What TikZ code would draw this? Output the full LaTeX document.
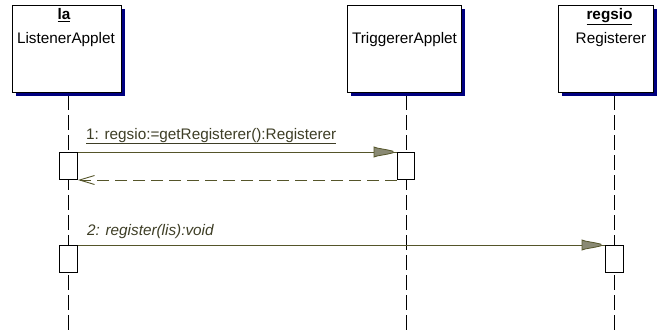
\documentclass[tikz,border=0pt]{standalone}
\usepackage{fontspec}
\setmainfont{Liberation Sans}
\usetikzlibrary{arrows.meta,decorations.markings,shadows}

\definecolor{shadowblue}{HTML}{000080}
\definecolor{msgolive}{HTML}{55552A}
\definecolor{msgtext}{HTML}{3E3E26}
\definecolor{headfill}{HTML}{8A8A74}

% underline placed below the descenders: [thickness]{gap}{text}
\newcommand\ulbox[3][1.6pt]{\leavevmode\begingroup
  \setbox0=\hbox{#3}\dimen0=\dp0 \advance\dimen0 by #2\relax
  \copy0\llap{\lower\dimen0\hbox{\vrule width\wd0 height0pt depth#1}}\endgroup}

\tikzset{
  base font/.style={font=\fontsize{15.3}{18}\selectfont},
  objbox/.style={draw=black, fill=white, line width=1pt, inner sep=0pt,
    minimum height=87pt, anchor=north west,
    drop shadow={shadow xshift=3pt, shadow yshift=-3pt, fill=shadowblue, opacity=1}},
  headtext/.style={base font, inner sep=0pt, anchor=base, text=black},
  lifeline/.style={draw=black, line width=1pt, dash pattern=on 15pt off 5pt},
  actbox/.style={draw=black, fill=white, line width=1pt, inner sep=0pt,
    minimum width=18pt, minimum height=27pt, anchor=north west},
  msgtip/.style={decoration={markings, mark=at position 1 with {
      \filldraw[draw=msgolive, fill=headfill, line width=0.8pt]
        (-23pt,5pt) -- (-20pt,4pt) -- (-9pt,2pt) -- (-4pt,0.8pt) --
        (-4pt,-0.8pt) -- (-9pt,-2pt) -- (-20pt,-4pt) -- (-23pt,-5pt) -- cycle;}},
    postaction={decorate}},
  msg/.style={draw=msgolive, line width=1pt, msgtip},
  reply/.style={draw=msgolive, line width=1pt, dash pattern=on 12pt off 6pt,
    -{Straight Barb[length=15pt, width=9pt, line width=0.9pt]}},
  msglabel/.style={base font, inner sep=0pt, anchor=base west, text=msgtext},
}

\begin{document}
\begin{tikzpicture}[x=1pt, y=-1pt]
  \fill[white] (0,0) rectangle (657,330);
  \useasboundingbox (0,0) rectangle (657,330);

  % lifelines
  \coordinate (la top) at (68,95);   \coordinate (la end) at (68,330);
  \coordinate (tr top) at (406,95);  \coordinate (tr end) at (406,330);
  \coordinate (rg top) at (614,95);  \coordinate (rg end) at (614,330);
  \draw[lifeline] (la top) -- (la end);
  \draw[lifeline] (tr top) -- (tr end);
  \draw[lifeline] (rg top) -- (rg end);

  % object boxes
  \node[objbox, minimum width=109pt] (la) at (12,5) {};
  \node[objbox, minimum width=114pt] (tr) at (347,5) {};
  \node[objbox, minimum width=95pt]  (rg) at (558,5) {};

  \node[headtext] (la name)  at (64,19)  {\bfseries\ulbox{1.5pt}{la}};
  \node[headtext] (la class) at (66,43)  {ListenerApplet};
  \node[headtext] (tr class) at (404.5,43) {TriggererApplet};
  \node[headtext] (rg name)  at (609.5,19) {\bfseries\ulbox{1.5pt}{regsio}};
  \node[headtext] (rg class) at (611,43) {Registerer};

  % activations
  \node[actbox] (a1) at (59,152) {};
  \node[actbox, minimum width=17pt] (b1) at (397,152) {};
  \node[actbox] (a2) at (59,245) {};
  \node[actbox] (c2) at (605,245) {};

  % message 1 and its return
  \draw[msg] (a1.north east) -- (b1.north west);
  \node[msglabel] (m1) at (86,139)
    {\ulbox[1pt]{1pt}{1: regsio:=getRegisterer():Registerer}};
  \draw[reply] (b1.south west) -- (a1.south east);

  % message 2
  \draw[msg] (a2.north east) -- (c2.north west);
  \node[msglabel] (m2) at (87,235) {\itshape 2: register(lis):void};
\end{tikzpicture}
\end{document}
